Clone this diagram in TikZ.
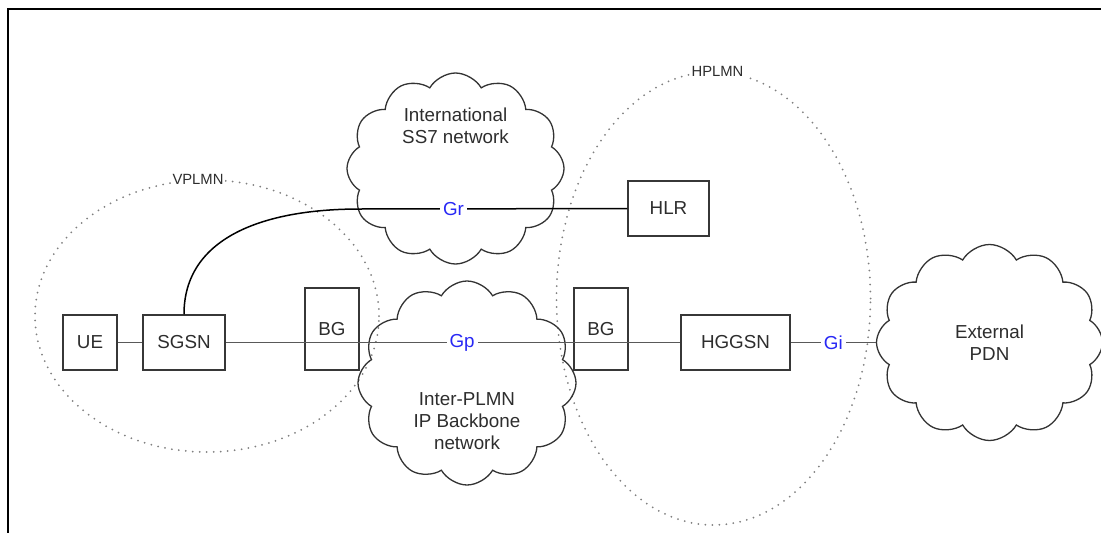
\documentclass[tikz,border=0pt]{standalone}
\usepackage{fontspec}
\setmainfont{Liberation Sans}
\usepackage{tikz}
\usetikzlibrary{shapes.geometric, shapes.symbols}
\definecolor{boxgray}{RGB}{55,55,55}
\definecolor{txtgray}{RGB}{45,45,45}
\definecolor{ifblue}{RGB}{40,40,245}
\tikzstyle{element} = [rectangle, minimum width=54pt, minimum height=55pt, text centered, draw=boxgray, line width=1.5pt, text=txtgray, font=\fontsize{18.8pt}{22pt}\selectfont]
\tikzstyle{network} = [cloud, cloud puffs=12, cloud puff arc=120, cloud ignores aspect, draw=black!80, line width=1.3pt]
\tikzstyle{nettext} = [text=txtgray, align=center, font=\fontsize{18.8pt}{22pt}\selectfont]
\tikzstyle{plmn} = [ellipse, draw=black!50, line width=2pt, dash pattern=on 0pt off 7pt, line cap=round]
\tikzstyle{plmnlabel} = [fill=white, text=txtgray, font=\fontsize{14.8pt}{17pt}\selectfont, inner sep=2pt]
\tikzstyle{link} = [draw=black!65, line width=1.1pt]
\tikzstyle{signal} = [draw=black, line width=1.5pt]
\tikzstyle{iface} = [fill=white, text=ifblue, inner sep=3pt, font=\fontsize{18.8pt}{22pt}\selectfont]

\begin{document}
\begin{tikzpicture}[x=1pt, y=-1pt, node distance=94pt]
\useasboundingbox (0,0) rectangle (1101,533);
\draw [line width=2.2pt] (8,533) -- (8,9) -- (1101,9);
\node (vplmn) [plmn, minimum width=344pt, minimum height=272pt, label={[plmnlabel, anchor=center, xshift=-9pt]north:VPLMN}] at (207,316) {};
\node (hplmn) [plmn, minimum width=314pt, minimum height=453pt, label={[plmnlabel, anchor=center, xshift=4pt]north:HPLMN}] at (713.5,298.5) {};
\node (ss7) [network, minimum width=217pt, minimum height=191pt] at (455.5,168.5) {};
\node (ss7text) [nettext, node distance=43pt, above of=ss7] {International\\SS7 network};
\node (ipbb) [network, minimum width=218pt, minimum height=204pt] at (467,383) {};
\node (ipbbtext) [nettext, node distance=38.5pt, below of=ipbb] {Inter-PLMN\\IP Backbone\\network};
\node (pdn) [network, nettext, minimum width=226pt, minimum height=196pt] at (989.5,342.5) {External\\PDN};
\node (ue) [element] at (90,342.5) {UE};
\node (sgsn) [element, right of=ue, minimum width=82pt] {SGSN};
\node (bg1) [element, right of=sgsn, xshift=54pt, yshift=13.5pt, minimum height=82pt] {BG};
\node (bg2) [element, minimum height=82pt] at (601,329) {BG};
\node (hggsn) [element, right of=bg2, xshift=40.5pt, yshift=-13.5pt, minimum width=109pt] {HGGSN};
\node (hlr) [element, minimum width=81pt] at (668.5,208.5) {HLR};
\coordinate (grjoin) at (360,209);
\draw [link] (ue) -- (sgsn);
\draw [link] (sgsn) -- node[iface, pos=0.52] {Gp} (hggsn);
\draw [link] (hggsn) -- node[iface] {Gi} (pdn);
\draw [signal] (sgsn.north) .. controls +(0,-75) and +(-100,0) .. (grjoin) -- node[iface, pos=0.35] {Gr} (hlr);
\end{tikzpicture}
\end{document}
